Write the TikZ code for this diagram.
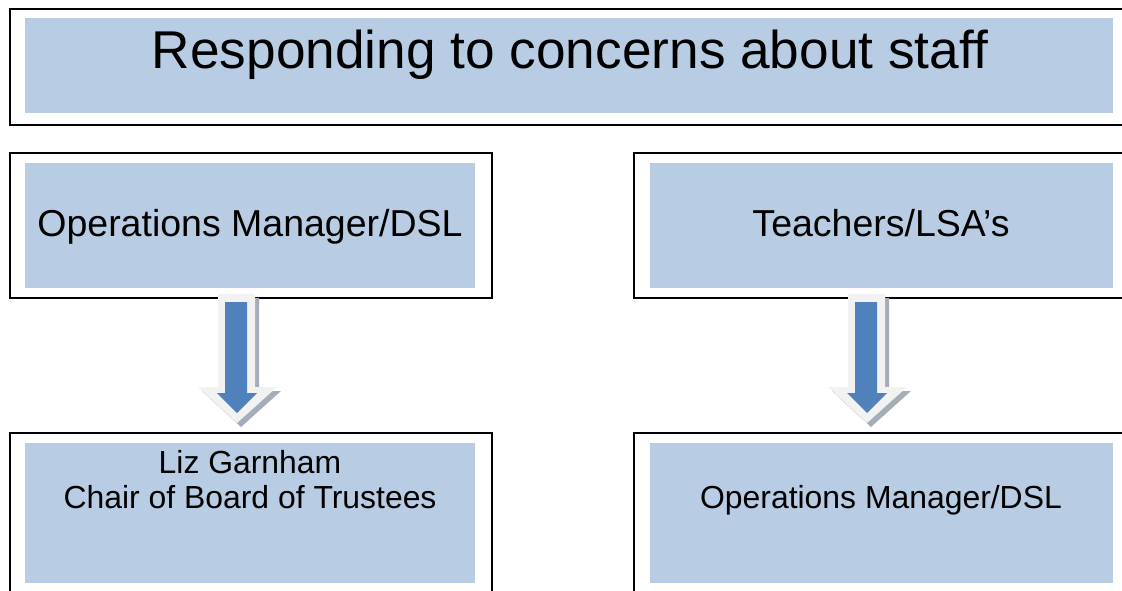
\documentclass[tikz,border=0pt]{standalone}
\usepackage{fontspec}
\setmainfont{Liberation Sans}
\definecolor{boxblue}{HTML}{B8CCE4}
\definecolor{arrowblue}{HTML}{4F81BD}
\definecolor{arrowpale}{HTML}{F2F2F2}
\definecolor{arrowshadow}{HTML}{A5ADB8}
\tikzset{
  outerbox/.style={draw=black, line width=2pt},
  innerbox/.style={fill=boxblue, draw=none, inner sep=0pt, outer sep=0pt, anchor=north west},
  titletext/.style={anchor=base, font=\fontsize{53.2}{60}\selectfont},
  bigtext/.style={anchor=base, font=\fontsize{37.5}{42}\selectfont},
  smalltext/.style={anchor=base, font=\fontsize{31.9}{36}\selectfont, align=center},
  blockarrow/.pic={
    \fill[arrowshadow] (-19+4,0+4) -- (18+4,0+4) -- (18+4,93+4) -- (40+4,93+4) -- (0+4,129+4) -- (-39+4,93+4) -- (-19+4,93+4) -- cycle;
    \fill[arrowpale] (-19,0) -- (18,0) -- (18,93) -- (40,93) -- (0,129) -- (-39,93) -- (-19,93) -- cycle;
    \fill[arrowblue] (-12,8) -- (10,8) -- (10,99) -- (20,99) -- (0,119) -- (-20,99) -- (-12,99) -- cycle;
  }
}
\begin{document}
\begin{tikzpicture}[x=1pt,y=-1pt]
\useasboundingbox (0,0) rectangle (1122,590);
% title
\node[outerbox, inner sep=0pt, minimum width=1130pt, minimum height=116pt, anchor=north west] (titleouter) at (9,8) {};
\node[innerbox, minimum width=1088pt, minimum height=95pt] (titlein) at (25,18) {};
\node[titletext] (title) at (570,68) {Responding to concerns about staff};
% top left
\node[outerbox, inner sep=0pt, minimum width=482pt, minimum height=145pt, anchor=north west] (tlouter) at (9,152) {};
\node[innerbox, minimum width=450pt, minimum height=125pt] (tlin) at (25,163) {};
\node[bigtext] (tltext) at (250,236) {Operations Manager/DSL};
% top right
\node[outerbox, inner sep=0pt, minimum width=520pt, minimum height=145pt, anchor=north west] (trouter) at (633,152) {};
\node[innerbox, minimum width=463pt, minimum height=125pt] (trin) at (650,163) {};
\node[bigtext] (trtext) at (881,236) {Teachers/LSA’s};
% bottom left
\node[outerbox, inner sep=0pt, minimum width=482pt, minimum height=200pt, anchor=north west] (blouter) at (9,432) {};
\node[innerbox, minimum width=450pt, minimum height=140pt] (blin) at (25,443) {};
\node[smalltext] (bltext1) at (250,473) {Liz Garnham};
\node[smalltext] (bltext2) at (250,508) {Chair of Board of Trustees};
% bottom right
\node[outerbox, inner sep=0pt, minimum width=520pt, minimum height=200pt, anchor=north west] (brouter) at (633,432) {};
\node[innerbox, minimum width=463pt, minimum height=140pt] (brin) at (650,443) {};
\node[smalltext] (brtext) at (881,508) {Operations Manager/DSL};
% arrows
\coordinate (la) at (237,294);
\coordinate (ra) at (867,294);
\pic at (la) {blockarrow};
\pic at (ra) {blockarrow};
\end{tikzpicture}
\end{document}
